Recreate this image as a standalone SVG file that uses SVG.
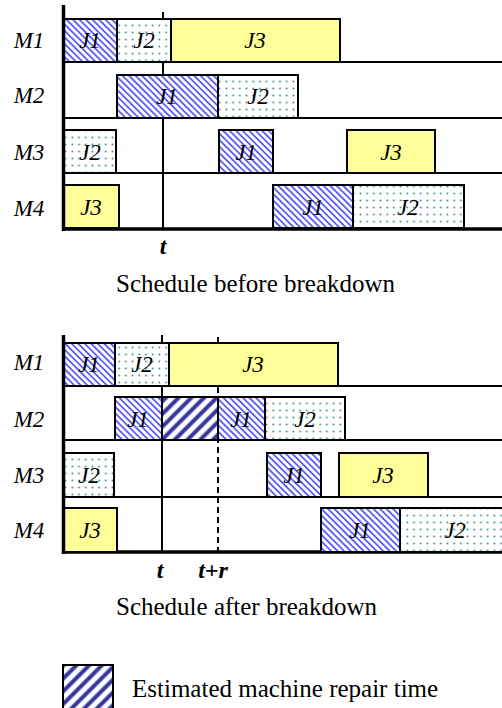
<svg xmlns="http://www.w3.org/2000/svg" width="502" height="708" viewBox="0 0 502 708">
  <defs>
    <!-- J1: fine blue back-slash hatching -->
    <pattern id="hatchJ1" patternUnits="userSpaceOnUse" width="4.6" height="10" patternTransform="rotate(-45)">
      <rect width="4.6" height="10" fill="#ffffff"/>
      <rect width="1.8" height="10" fill="#5c5cf4"/>
    </pattern>
    <!-- repair time: wide dark slash hatching -->
    <pattern id="hatchRepair" patternUnits="userSpaceOnUse" width="9" height="10" patternTransform="rotate(45)">
      <rect width="9" height="10" fill="#ffffff"/>
      <rect x="0.5" width="4" height="10" fill="#34349a"/>
    </pattern>
    <!-- J2: teal dot grid -->
    <pattern id="dotsJ2" patternUnits="userSpaceOnUse" width="6.7" height="7" x="2" y="1">
      <rect width="6.7" height="7" fill="#ffffff"/>
      <circle cx="3.3" cy="3.5" r="0.95" fill="#3a8c8c"/>
    </pattern>
  </defs>
  <style>
    .box { stroke: #000; stroke-width: 2; }
    .j1 { fill: url(#hatchJ1); }
    .j2 { fill: url(#dotsJ2); }
    .j3 { fill: #ffff99; }
    .rep { fill: url(#hatchRepair); }
    .lbl { font-family: "Liberation Serif", "Times New Roman", serif; font-style: italic; font-size: 23px; fill: #000; text-anchor: middle; }
    .mach { font-family: "Liberation Serif", "Times New Roman", serif; font-style: italic; font-size: 23px; fill: #000; text-anchor: middle; }
    .tick { font-family: "Liberation Serif", "Times New Roman", serif; font-style: italic; font-weight: bold; font-size: 24px; fill: #000; text-anchor: middle; }
    .cap { font-family: "Liberation Serif", "Times New Roman", serif; font-size: 25px; fill: #000; }
    .row { stroke: #000; stroke-width: 2; fill: none; }
    .axis { stroke: #000; stroke-width: 3.5; fill: none; }
    .mark { stroke: #000; stroke-width: 2; fill: none; }
    .dash { stroke: #000; stroke-width: 2; fill: none; stroke-dasharray: 6 4; }
  </style>

  <!-- ===== Schedule before breakdown ===== -->
  <g id="before">
    <g id="before-lines">
      <line class="row" x1="63" y1="62" x2="502" y2="62"/>
      <line class="row" x1="63" y1="118" x2="502" y2="118"/>
      <line class="row" x1="63" y1="173" x2="502" y2="173"/>
      <line class="axis" x1="63" y1="229" x2="502" y2="229"/>
      <line class="mark" x1="163" y1="12" x2="163" y2="229"/>
    </g>

    <g id="b-M1-J1"><rect class="box j1" x="63" y="19" width="54" height="43"/><text class="lbl" x="90" y="48">J1</text></g>
    <g id="b-M1-J2"><rect class="box j2" x="117" y="19" width="54" height="43"/><text class="lbl" x="144" y="48">J2</text></g>
    <g id="b-M1-J3"><rect class="box j3" x="171" y="19" width="169" height="43"/><text class="lbl" x="255" y="48">J3</text></g>

    <g id="b-M2-J1"><rect class="box j1" x="117" y="75" width="101" height="43"/><text class="lbl" x="167" y="104">J1</text></g>
    <g id="b-M2-J2"><rect class="box j2" x="218" y="75" width="80" height="43"/><text class="lbl" x="258" y="104">J2</text></g>

    <g id="b-M3-J2"><rect class="box j2" x="63" y="130" width="53" height="43"/><text class="lbl" x="90" y="160">J2</text></g>
    <g id="b-M3-J1"><rect class="box j1" x="219" y="130" width="54" height="43"/><text class="lbl" x="246" y="160">J1</text></g>
    <g id="b-M3-J3"><rect class="box j3" x="347" y="130" width="88" height="43"/><text class="lbl" x="391" y="160">J3</text></g>

    <g id="b-M4-J3"><rect class="box j3" x="63" y="185" width="56" height="43"/><text class="lbl" x="91" y="215">J3</text></g>
    <g id="b-M4-J1"><rect class="box j1" x="273" y="185" width="80" height="43"/><text class="lbl" x="313" y="215">J1</text></g>
    <g id="b-M4-J2"><rect class="box j2" x="353" y="185" width="111" height="43"/><text class="lbl" x="408" y="215">J2</text></g>

    <line class="axis" x1="63.5" y1="5" x2="63.5" y2="231"/>

    <g id="before-labels">
      <text class="mach" x="29" y="48">M1</text>
      <text class="mach" x="29" y="103">M2</text>
      <text class="mach" x="29" y="160">M3</text>
      <text class="mach" x="29" y="216">M4</text>
      <text class="tick" x="163" y="254">t</text>
      <text class="cap" x="116" y="292">Schedule before breakdown</text>
    </g>
  </g>

  <!-- ===== Schedule after breakdown ===== -->
  <g id="after">
    <g id="after-lines">
      <line class="row" x1="63" y1="386" x2="502" y2="386"/>
      <line class="row" x1="63" y1="440" x2="502" y2="440"/>
      <line class="row" x1="63" y1="497" x2="502" y2="497"/>
      <line class="axis" x1="63" y1="552" x2="502" y2="552"/>
      <line class="mark" x1="162" y1="335" x2="162" y2="552"/>
      <line class="dash" x1="218" y1="337" x2="218" y2="557"/>
    </g>

    <g id="a-M1-J1"><rect class="box j1" x="63" y="343" width="52" height="43"/><text class="lbl" x="89" y="372">J1</text></g>
    <g id="a-M1-J2"><rect class="box j2" x="115" y="343" width="54" height="43"/><text class="lbl" x="142" y="372">J2</text></g>
    <g id="a-M1-J3"><rect class="box j3" x="169" y="343" width="169" height="43"/><text class="lbl" x="253" y="372">J3</text></g>

    <g id="a-M2-J1a"><rect class="box j1" x="115" y="397" width="47" height="43"/><text class="lbl" x="138" y="427">J1</text></g>
    <g id="a-M2-repair"><rect class="box rep" x="162" y="397" width="56" height="43"/></g>
    <g id="a-M2-J1b"><rect class="box j1" x="218" y="397" width="47" height="43"/><text class="lbl" x="241" y="427">J1</text></g>
    <g id="a-M2-J2"><rect class="box j2" x="265" y="397" width="80" height="43"/><text class="lbl" x="305" y="427">J2</text></g>

    <g id="a-M3-J2"><rect class="box j2" x="63" y="453" width="51" height="44"/><text class="lbl" x="89" y="483">J2</text></g>
    <g id="a-M3-J1"><rect class="box j1" x="267" y="453" width="54" height="44"/><text class="lbl" x="294" y="483">J1</text></g>
    <g id="a-M3-J3"><rect class="box j3" x="339" y="453" width="89" height="44"/><text class="lbl" x="383" y="483">J3</text></g>

    <g id="a-M4-J3"><rect class="box j3" x="63" y="508" width="54" height="44"/><text class="lbl" x="90" y="538">J3</text></g>
    <g id="a-M4-J1"><rect class="box j1" x="321" y="508" width="79" height="44"/><text class="lbl" x="360" y="538">J1</text></g>
    <g id="a-M4-J2"><rect class="box j2" x="400" y="508" width="110" height="44"/><text class="lbl" x="455" y="538">J2</text></g>

    <line class="axis" x1="63.5" y1="335" x2="63.5" y2="554"/>

    <g id="after-labels">
      <text class="mach" x="29" y="370">M1</text>
      <text class="mach" x="29" y="427">M2</text>
      <text class="mach" x="29" y="483">M3</text>
      <text class="mach" x="29" y="538">M4</text>
      <text class="tick" x="160" y="578">t</text>
      <text class="tick" x="213" y="578">t+r</text>
      <text class="cap" x="116" y="615">Schedule after breakdown</text>
    </g>
  </g>

  <!-- ===== Legend ===== -->
  <g id="legend">
    <rect class="box rep" x="63" y="665" width="50" height="46"/>
    <text class="cap" x="132" y="697">Estimated machine repair time</text>
  </g>
</svg>
